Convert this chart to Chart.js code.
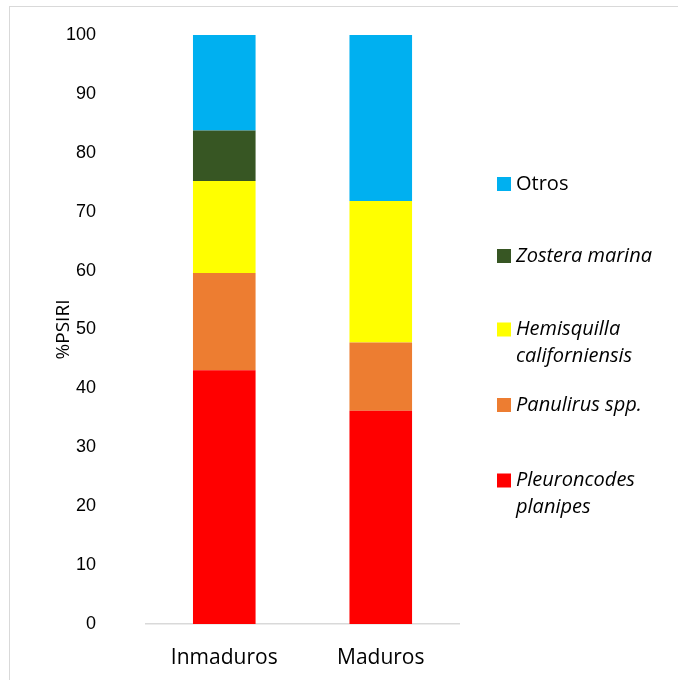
<!DOCTYPE html>
<html>
<head>
<meta charset="utf-8">
<script src="https://cdn.jsdelivr.net/npm/chart.js@4"></script>
<style>
  html, body { margin: 0; padding: 0; background: #fff; }
  #wrap { position: relative; width: 678px; height: 680px; overflow: hidden; }
  #frame { position: absolute; left: 9px; top: 6px; width: 700px; height: 700px; border: 1px solid #d9d9d9; }
  canvas { position: absolute; left: 0; top: 0; }
</style>
</head>
<body>
<div id="wrap">
  <div id="frame"></div>
  <canvas id="chart" width="678" height="680"></canvas>
</div>
<script>
// ==========================================
// DATA
// ==========================================
const categories = ['Inmaduros', 'Maduros'];
const yTicks = [0, 10, 20, 30, 40, 50, 60, 70, 80, 90, 100];

// stacked bottom -> top
const seriesNames = [
    ['Pleuroncodes', 'planipes'],
    ['Panulirus spp.'],
    ['Hemisquilla', 'californiensis'],
    ['Zostera marina'],
    ['Otros']
];
const seriesItalic = [true, true, true, true, false];
const seriesColors = ['#FF0000', '#ED7D31', '#FFFF00', '#375623', '#00B0F0'];

const pleuroncodes = [43.1, 36.2];
const panulirus = [16.5, 11.6];
const hemisquilla = [15.6, 24.0];
const zostera = [8.6, 0];
const otros = [16.2, 28.2];
const seriesValues = [pleuroncodes, panulirus, hemisquilla, zostera, otros];

// ==========================================
// PLUGINS
// ==========================================
const FONT_TXT = '"Open Sans", Lato, sans-serif';

// y axis title, drawn to the left of the tick labels
const yTitlePlugin = {
    id: 'yTitle',
    afterDraw(chart) {
        const { ctx, chartArea } = chart;
        ctx.save();
        ctx.translate(chartArea.left - 82, (chartArea.top + chartArea.bottom) / 2);
        ctx.rotate(-Math.PI / 2);
        ctx.font = '19px ' + FONT_TXT;
        ctx.fillStyle = '#000';
        ctx.textAlign = 'center';
        ctx.textBaseline = 'middle';
        ctx.fillText('%PSIRI', 0, 0);
        ctx.restore();
    }
};

// legend on the right, top item = last dataset
const sideLegendPlugin = {
    id: 'sideLegend',
    afterDraw(chart) {
        const { ctx } = chart;
        const itemCenters = [184, 256, 343, 405, 494];
        const lineH = 27;
        const boxX = 497, boxSize = 14, textX = 516;
        const n = chart.data.datasets.length;
        ctx.save();
        ctx.textBaseline = 'middle';
        ctx.textAlign = 'left';
        for (let k = 0; k < n; k++) {
            const i = n - 1 - k;
            const ds = chart.data.datasets[i];
            const lines = seriesNames[i];
            const cy = itemCenters[k];
            const firstY = cy - (lines.length - 1) * lineH / 2;
            ctx.fillStyle = ds.backgroundColor;
            ctx.fillRect(boxX, firstY - boxSize / 2, boxSize, boxSize);
            ctx.fillStyle = '#000';
            ctx.font = (seriesItalic[i] ? 'italic ' : '') + '20px ' + FONT_TXT;
            lines.forEach((t, j) => ctx.fillText(t, textX, firstY + j * lineH));
        }
        ctx.restore();
    }
};

// ==========================================
// CHART
// ==========================================
const ctx = document.getElementById('chart').getContext('2d');
new Chart(ctx, {
    type: 'bar',
    data: {
        labels: categories,
        datasets: seriesValues.map((vals, i) => ({
            label: seriesNames[i].join(' '),
            data: vals,
            backgroundColor: seriesColors[i],
            borderWidth: 0,
            barPercentage: 0.4,
            categoryPercentage: 1.0
        }))
    },
    options: {
        responsive: false,
        animation: false,
        layout: {
            padding: { left: 16, right: 219, top: 35, bottom: 8 }
        },
        plugins: {
            legend: { display: false },
            tooltip: { enabled: false }
        },
        scales: {
            x: {
                stacked: true,
                afterFit: (axis) => { axis.height = 48; },
                grid: { display: false, drawTicks: false },
                border: { display: true, color: '#d9d9d9', width: 1.5 },
                ticks: {
                    font: { family: FONT_TXT, size: 21 },
                    color: '#000',
                    padding: 21
                }
            },
            y: {
                stacked: true,
                min: 0,
                max: 100,
                afterBuildTicks: (axis) => { axis.ticks = yTicks.map(v => ({ value: v })); },
                // the wide label gap should not push the plot down from the top
                afterFit: (axis) => { axis.paddingTop = 0; axis.paddingBottom = 0; },
                grid: { display: false, drawTicks: false },
                border: { display: false },
                ticks: {
                    font: { family: '"Liberation Sans", Arial, sans-serif', size: 18 },
                    color: '#000',
                    padding: 50
                }
            }
        }
    },
    plugins: [yTitlePlugin, sideLegendPlugin]
});
</script>
</body>
</html>
